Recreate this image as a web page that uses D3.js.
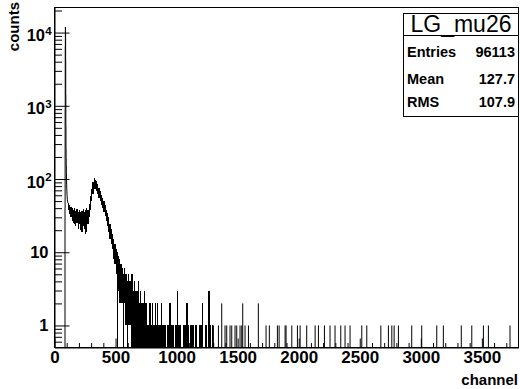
<!DOCTYPE html>
<html><head><meta charset="utf-8">
<script src="https://cdn.jsdelivr.net/npm/d3@7"></script>
<style>body{margin:0;background:#fff} svg{display:block}</style>
</head><body><svg id="c" width="520" height="389"></svg>
<script>
// ---- data ----
const pedChannels = [86,87,88,89,90,91,92,93,94,95,96,97,98,99,100,101,102,103,104,105,106,107,108,109];
const pedCounts   = [40,900,6500,11900,9800,4200,1400,520,260,190,150,120,100,85,75,68,62,58,55,52,50,49,48,47];

const bandStart = [110,120,130,140,150,160,170,180,190,200,
  210,220,230,240,250,260,270,280,290,300,
  310,320,330,340,350,360,370,380,390,400,
  410,420,430,440,450,460,470,480,490,500,
  510,520,530,540,550,560,570,580,590,600,
  610,620,630,640,650,660,670,680,690,700,
  710,720,730,740,750,760,770,780,790,800,
  810,820,830,840,850,860,870,880,890,900,
  910,920,930,940,950,960,970,980,990,1000,
  1010,1020,1030,1040,1050,1060,1070,1080,1090,1100,
  1110,1120,1130,1140,1150,1160,1170,1180,1190,1200,
  1210,1220,1230,1240,1250,1260,1270,1280,1290];
const bandHigh = [47,44,42,40,38,40,37,39,36,38,
  35,37,39,36,38,40,38,45,58,72,
  90,103,98,95,85,75,68,60,55,50,
  44,38,34,30,24,21,18,15,13,11,
  10,9,8,7,6,5,6,5,4,5,
  4,4,5,3,4,3,3,4,2,3,
  2,2,3,2,2,1,2,2,1,2,
  1,2,1,2,1,1,2,1,1,1,
  0,1,1,2,1,1,1,0,1,3,
  1,1,1,0,1,1,1,2,1,0,
  1,1,1,0,1,1,0,1,1,1,
  2,0,1,1,0,3,1,0,1];
const bandLow = [38,33,30,27,25,24,23,25,21,24,
  20,19,23,21,18,19,24,30,38,50,
  62,74,72,68,62,55,50,44,40,36,
  31,27,23,19,15,13,11,8,7,5,
  0,3,2,2,2,0,2,1,0,1,
  1,1,0,0,0,0,0,0,0,0,
  0,0,0,0,0,0,0,0,0,0,
  0,0,0,0,0,0,0,0,0,0,
  0,0,0,0,0,0,0,0,0,0,
  0,0,0,0,0,0,0,0,0,0,
  0,0,0,0,0,0,0,0,0,0,
  0,0,0,0,0,0,0,0,0];

const tailChannels = [1301,1342,1369,1396,1410,1437,1451,1478,1492,1519,1533,1541,1560,1588,1669,1732,1759,1825,1839,1888,1896,1943,1989,2011,2065,2134,2161,2210,2256,2297,2344,2379,2420,2516,2557,2672,2734,2762,2781,2816,2925,3007,3130,3184,3331,3417,3512,3553,3730];
const tailCounts   = [1,1,2,1,1,1,1,1,1,1,1,2,1,1,2,1,1,1,1,1,1,1,1,1,1,1,1,1,1,1,1,1,1,1,1,1,1,1,1,1,1,1,1,1,1,1,1,1,1];

const xTickValues = [0,500,1000,1500,2000,2500,3000,3500];
const xTickLabels = ["0","500","1000","1500","2000","2500","3000","3500"];
const xMinorValues = [100,200,300,400,600,700,800,900,1100,1200,1300,1400,1600,1700,1800,1900,2100,2200,2300,2400,2600,2700,2800,2900,3100,3200,3300,3400,3600,3700];
const yTickValues = [1,10,100,1000,10000];
const yLabelBase = ["1","10","10","10","10"];
const yLabelExp  = ["","","2","3","4"];
const yMinorValues = [0.6,0.7,0.8,0.9,2,3,4,5,6,7,8,9,20,30,40,50,60,70,80,90,200,300,400,500,600,700,800,900,2000,3000,4000,5000,6000,7000,8000,9000,20000];

const statsTitle = "LG_mu26";
const statsNames = ["Entries","Mean","RMS"];
const statsValues = ["96113","127.7","107.9"];

// ---- drawing ----
const FONT = "'Liberation Sans', Arial, Helvetica, sans-serif";
const svg = d3.select("#c");
const x = d3.scaleLinear().domain([0,3800]).range([54.5,518.5]);
const y = d3.scaleLog().domain([0.5,22000]).range([347.5,7.5]);
const yb = y(0.5);
const yc = c => c > 0 ? y(c) : yb;

const plot = svg.append("g");

// pedestal as step outline
const pedPts = [[pedChannels[0], 0]];
pedChannels.forEach((c,i)=>pedPts.push([c, pedCounts[i]]));
pedPts.push([bandStart[0], bandHigh[0]]);
plot.append("path")
  .attr("d", d3.line().x(d=>x(d[0])).y(d=>yc(d[1])).curve(d3.curveStepAfter)(pedPts))
  .attr("fill","none").attr("stroke","#000").attr("stroke-width",1);

// dense region: per-group min/max envelope
plot.selectAll("rect.band").data(bandStart.map((c,i)=>({c, hi:bandHigh[i], lo:bandLow[i]})).filter(d=>d.hi>0))
  .enter().append("rect")
  .attr("x", d=>x(d.c))
  .attr("width", d=>x(d.c+10)-x(d.c))
  .attr("y", d=>yc(d.hi))
  .attr("height", d=>yc(d.lo)-yc(d.hi))
  .attr("shape-rendering","crispEdges")
  .attr("fill","#000");

// sparse tail
plot.selectAll("line.tail").data(tailChannels.map((c,i)=>({c, n:tailCounts[i]})))
  .enter().append("line")
  .attr("x1", d=>x(d.c+0.5)).attr("x2", d=>x(d.c+0.5))
  .attr("y1", yb).attr("y2", d=>yc(d.n))
  .attr("stroke","#000").attr("stroke-width",1);

// frame
svg.append("rect").attr("x",54.5).attr("y",7.5).attr("width",464).attr("height",340)
  .attr("fill","none").attr("stroke","#000").attr("stroke-width",1);

// x axis
svg.append("g").attr("transform","translate(0,347.5)")
  .call(d3.axisBottom(x).tickValues(xMinorValues).tickSizeInner(-4.5).tickSizeOuter(0).tickFormat(""))
  .call(g=>g.select(".domain").remove());
const xa = svg.append("g").attr("transform","translate(0,347.5)")
  .call(d3.axisBottom(x).tickValues(xTickValues).tickSizeInner(-9).tickSizeOuter(0).tickPadding(3)
        .tickFormat((d,i)=>xTickLabels[i]));
xa.select(".domain").attr("stroke","#000");
xa.selectAll("text").attr("font-family",FONT).attr("font-weight","bold").attr("font-size","17px").attr("fill","#000");

// y axis
svg.append("g").attr("transform","translate(54.5,0)")
  .call(d3.axisLeft(y).tickValues(yMinorValues).tickSizeInner(-7.5).tickSizeOuter(0).tickFormat(""))
  .call(g=>g.select(".domain").remove());
svg.append("g").attr("transform","translate(54.5,0)")
  .call(d3.axisLeft(y).tickValues(yTickValues).tickSizeInner(-15).tickSizeOuter(0).tickFormat(""));

const yl = svg.append("g").attr("font-family",FONT).attr("font-weight","bold").attr("fill","#000");
yTickValues.forEach((v,i)=>{
  if (yLabelExp[i] === "") {
    yl.append("text").attr("x",48.5).attr("y",y(v)+5.8).attr("text-anchor","end")
      .attr("font-size","16.5px").text(yLabelBase[i]);
  } else {
    yl.append("text").attr("x",45).attr("y",y(v)+8.6).attr("text-anchor","end")
      .attr("font-size","16.5px").text(yLabelBase[i]);
    yl.append("text").attr("x",45.3).attr("y",y(v)+2.4).attr("text-anchor","start")
      .attr("font-size","11.5px").text(yLabelExp[i]);
  }
});

// axis titles
svg.append("text").attr("x",518).attr("y",385).attr("text-anchor","end")
  .attr("font-family",FONT).attr("font-weight","bold").attr("font-size","15px").text("channel");
svg.append("text").attr("transform","translate(19,2) rotate(-90)").attr("text-anchor","end")
  .attr("font-family",FONT).attr("font-weight","bold").attr("font-size","15px").text("counts");

// stats box
const sb = svg.append("g");
sb.append("rect").attr("x",403.5).attr("y",13.5).attr("width",115).attr("height",103)
  .attr("fill","#fff").attr("stroke","#000");
sb.append("line").attr("x1",403.5).attr("x2",518.5).attr("y1",35.5).attr("y2",35.5).attr("stroke","#000");
sb.append("text").attr("x",461).attr("y",32).attr("text-anchor","middle")
  .attr("font-family",FONT).attr("font-size","23px").text(statsTitle);
const rowY = [56.5,84,106.5];
statsNames.forEach((n,i)=>{
  sb.append("text").attr("x",407).attr("y",rowY[i]).attr("font-family",FONT)
    .attr("font-weight","bold").attr("font-size","14.5px").text(n);
  sb.append("text").attr("x",515).attr("y",rowY[i]).attr("text-anchor","end").attr("font-family",FONT)
    .attr("font-weight","bold").attr("font-size","14.5px").text(statsValues[i]);
});
</script>
</body></html>
